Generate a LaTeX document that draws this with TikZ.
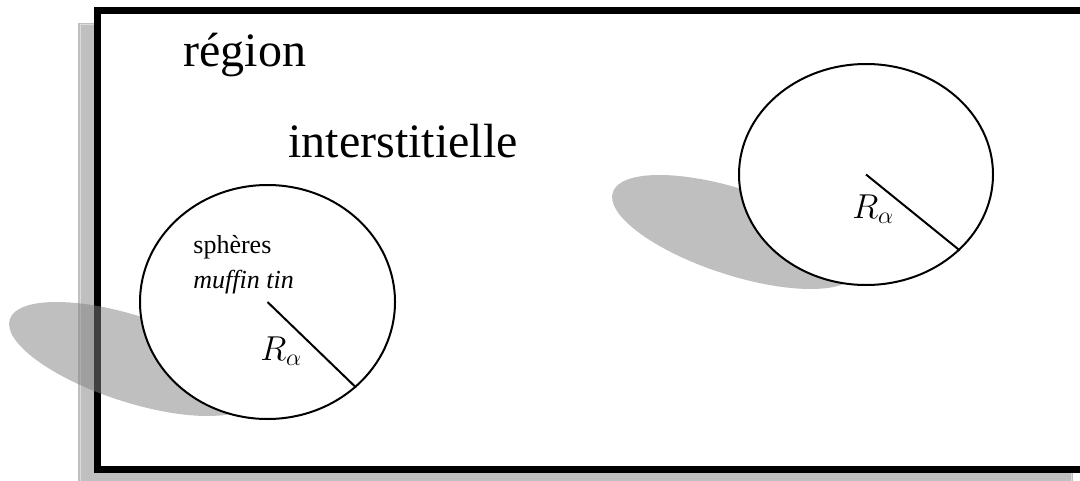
\documentclass[tikz,border=0pt]{standalone}
\usepackage{fontspec}
\setmainfont{Liberation Serif}
\usetikzlibrary{shapes.geometric}

\begin{document}
\begin{tikzpicture}[
    x=0.5pt, y=-0.5pt,
    sphere/.style={ellipse,draw,line width=1pt,fill=white,inner sep=0pt},
    shadow/.style={fill=black!50,fill opacity=0.5},
    bigtext/.style={font=\fontsize{24}{28}\selectfont,inner sep=0pt,anchor=base west},
    smalltext/.style={font=\fontsize{13}{16}\selectfont,inner sep=0pt,anchor=base west},
    radlabel/.style={font=\fontsize{17}{20}\selectfont,inner sep=0pt,anchor=base west},
    radius/.style={line width=1pt},
  ]
    \useasboundingbox (0,0) rectangle (1080,481);
    % cadre et son ombre
    \fill[black!25] (78,23) rectangle (1073,495);
    \draw[black!14,line width=0.5pt] (80,25) rectangle (1071,495);
    \draw[line width=3.5pt,fill=white] (97.5,10.5) rectangle (1085.5,469.5);
    \node[bigtext] (reg) at (183,67) {région};
    \node[bigtext] (inter) at (288,157) {interstitielle};
    % ombres des spheres
    \fill[shadow,rotate around={-18:(132,359)}] (132,359) ellipse [x radius=128.5, y radius=43];
    \fill[shadow,rotate around={-18:(735,232)}] (735,232) ellipse [x radius=128.5, y radius=43];
    % spheres muffin tin
    \node[sphere,minimum width=127.5pt,minimum height=117pt] (mtA) at (267.5,302) {};
    \node[sphere,minimum width=127pt,minimum height=110.5pt] (mtB) at (866,174.5) {};
    \node[smalltext] (sph) at (193,253) {sphères};
    \node[smalltext] (muf) at (193,288) {\textit{muffin tin}};
    \draw[radius] (mtA.center) -- (mtA.-44);
    \draw[radius] (mtB.center) -- (mtB.-39);
    \node[radlabel] (RA) at (260,360) {$R_\alpha$};
    \node[radlabel] (RB) at (852,218) {$R_\alpha$};
  \end{tikzpicture}
\end{document}
